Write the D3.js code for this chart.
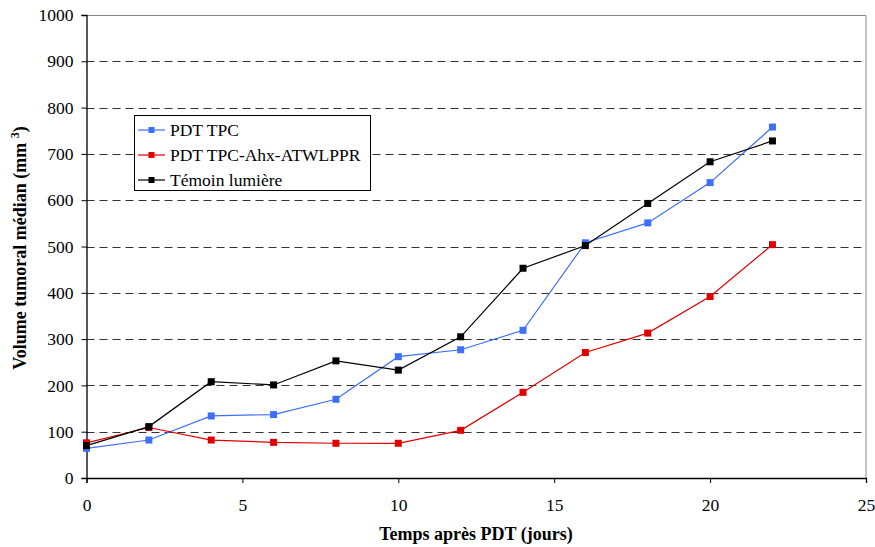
<!DOCTYPE html>
<html>
<head>
<meta charset="utf-8">
<script src="https://cdn.jsdelivr.net/npm/d3@7"></script>
<style>
  body { margin: 0; background: #fff; }
  svg text { font-family: "Liberation Serif", "Times New Roman", Times, "DejaVu Serif", serif; }
</style>
</head>
<body>
<svg id="chart" width="875" height="547"></svg>
<script>
// Days after PDT
const days = [0, 2, 4, 6, 8, 10, 12, 14, 16, 18, 20, 22];
// Median tumour volume (mm³) per group
const pdtTpc = [64, 82, 134, 137, 170, 262, 277, 319, 508, 551, 638, 758];
const pdtTpcPeptide = [76, 109, 82, 77, 75, 75, 103, 185, 271, 313, 392, 504];
const lightControl = [70, 111, 208, 201, 253, 233, 305, 453, 502, 593, 683, 728];

const seriesNames = ["PDT TPC", "PDT TPC-Ahx-ATWLPPR", "Témoin lumière"];
const seriesColors = ["#3d6ffa", "#e00000", "#000000"];
const xTicks = [0, 5, 10, 15, 20, 25];
const yTicks = [0, 100, 200, 300, 400, 500, 600, 700, 800, 900, 1000];

const FONT = '"Liberation Serif", "Times New Roman", Times, "DejaVu Serif", serif';

const series = [pdtTpc, pdtTpcPeptide, lightControl].map((vals, i) => ({
  name: seriesNames[i], color: seriesColors[i],
  points: days.map((d, j) => ({ x: d, y: vals[j] }))
}));

const svg = d3.select("#chart").attr("font-family", FONT);
const m = { left: 86.5, right: 866, top: 15, bottom: 478 };

const x = d3.scaleLinear().domain([0, 25]).range([m.left, m.right]);
const y = d3.scaleLinear().domain([0, 1000]).range([m.bottom, m.top]);

// Dashed horizontal gridlines
svg.append("g")
  .selectAll("line")
  .data(yTicks.filter(t => t > 0 && t < 1000))
  .join("line")
  .attr("x1", m.left).attr("x2", m.right)
  .attr("y1", d => Math.round(y(d)) + 0.5).attr("y2", d => Math.round(y(d)) + 0.5)
  .attr("stroke", "#333").attr("stroke-width", 1)
  .attr("stroke-dasharray", "8,5");

// Plot frame: top and right edges
svg.append("path")
  .attr("d", `M${m.left},${Math.round(y(1000)) + 0.5} H${m.right} V${m.bottom}`)
  .attr("fill", "none").attr("stroke", "#888").attr("stroke-width", 1);

// Axes
const xAxis = d3.axisBottom(x).tickValues(xTicks).tickSize(5).tickPadding(16).tickFormat(d3.format("d"));
const yAxis = d3.axisLeft(y).tickValues(yTicks).tickSize(5).tickPadding(8).tickFormat(d3.format("d"));

const gx = svg.append("g").attr("transform", `translate(0,${m.bottom})`).call(xAxis);
const gy = svg.append("g").attr("transform", `translate(${m.left},0)`).call(yAxis);
[gx, gy].forEach(g => {
  g.attr("font-family", FONT).attr("font-size", 17.5);
  g.select(".domain").attr("stroke", "#000").attr("stroke-width", 1.3);
  g.selectAll(".tick line").attr("stroke", "#000");
  g.selectAll(".tick text").attr("fill", "#000");
});

// Axis titles
svg.append("text")
  .attr("x", 476).attr("y", 540)
  .attr("text-anchor", "middle")
  .attr("font-family", FONT)
  .attr("font-size", 18).attr("font-weight", "bold")
  .text("Temps après PDT (jours)");

const yt = svg.append("text")
  .attr("transform", "translate(26,248) rotate(-90)")
  .attr("text-anchor", "middle")
  .attr("font-family", FONT)
  .attr("font-size", 18).attr("font-weight", "bold");
yt.append("tspan").text("Volume tumoral médian (mm ");
yt.append("tspan").attr("dy", -7).attr("font-size", 12).text("3");
yt.append("tspan").attr("dy", 7).text(")");

// Lines and square markers
const line = d3.line().x(d => x(d.x)).y(d => y(d.y));
const sq = 7;
series.forEach(s => {
  svg.append("path")
    .datum(s.points)
    .attr("d", line)
    .attr("fill", "none")
    .attr("stroke", s.color)
    .attr("stroke-width", 1.2);
  svg.append("g")
    .selectAll("rect")
    .data(s.points)
    .join("rect")
    .attr("x", d => x(d.x) - sq / 2).attr("y", d => y(d.y) - sq / 2)
    .attr("width", sq).attr("height", sq)
    .attr("fill", s.color);
});

// Legend
const lg = svg.append("g");
lg.append("rect")
  .attr("x", 134.5).attr("y", 115.5).attr("width", 236).attr("height", 75)
  .attr("fill", "#fff").attr("stroke", "#000").attr("stroke-width", 1);
const lsq = 6;
series.forEach((s, i) => {
  const cy = 130 + i * 25;
  lg.append("line").attr("x1", 138).attr("x2", 165).attr("y1", cy).attr("y2", cy)
    .attr("stroke", s.color).attr("stroke-width", 1.2);
  lg.append("rect").attr("x", 151.5 - lsq / 2).attr("y", cy - lsq / 2)
    .attr("width", lsq).attr("height", lsq).attr("fill", s.color);
  lg.append("text").attr("x", 170).attr("y", cy + 6)
    .attr("font-family", FONT)
    .attr("font-size", 17.5).attr("fill", "#000").text(s.name);
});
</script>
</body>
</html>
